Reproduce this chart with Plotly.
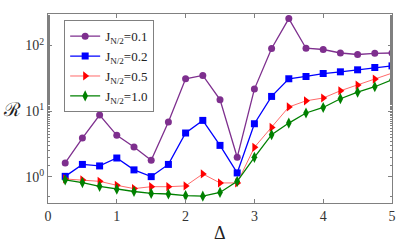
import plotly.graph_objects as go

delta = [0.25, 0.5, 0.75, 1.0, 1.25, 1.5, 1.75, 2.0, 2.25, 2.5,
         2.75, 3.0, 3.25, 3.5, 3.75, 4.0, 4.25, 4.5, 4.75, 5.0]
r_01 = [1.63, 3.9, 8.75, 4.3, 2.86, 1.79, 6.85, 31.2, 35.0, 15.0,
        1.99, 21.7, 90, 257, 91, 87, 77, 73, 76, 77]
r_02 = [1.02, 1.55, 1.47, 1.94, 1.28, 1.01, 1.55, 4.66, 7.25, 3.02,
        1.15, 6.45, 16.8, 31.2, 33.8, 37.5, 39.8, 42.7, 46.3, 49]
r_05 = [0.93, 0.90, 0.857, 0.745, 0.664, 0.71, 0.71, 0.73, 1.11, 0.81,
        0.81, 2.82, 5.67, 11.6, 14.4, 15.9, 20.5, 25, 30.9, 38]
r_10 = [0.90, 0.82, 0.72, 0.65, 0.60, 0.56, 0.55, 0.52, 0.51, 0.58,
        0.857, 1.99, 4.4, 6.6, 9.4, 11.4, 15.5, 19.5, 23.6, 30.1]

names = ["J<sub>N/2</sub>=0.1", "J<sub>N/2</sub>=0.2", "J<sub>N/2</sub>=0.5", "J<sub>N/2</sub>=1.0"]
series = [r_01, r_02, r_05, r_10]
line_colors = ["#7E2F8E", "#0000FF", "#FF6A6A", "#008000"]
marker_colors = ["#7E2F8E", "#0000FF", "#FF0000", "#008000"]
symbols = ["circle", "square", "triangle-right", "diamond-tall"]
sizes = [7, 7, 8, 8]
widths = [1.3, 1.3, 1.0, 1.3]

fig = go.Figure()
for y, n, lc, mc, s, sz, w in zip(series, names, line_colors, marker_colors, symbols, sizes, widths):
    fig.add_trace(go.Scatter(x=delta, y=y, name=n, mode="lines+markers",
                             line=dict(color=lc, width=w),
                             marker=dict(symbol=s, size=sz, color=mc, line=dict(width=0))))

axis_common = dict(showline=True, linecolor="#808080", linewidth=1, mirror="ticks",
                   ticks="inside", ticklen=4, tickcolor="#808080", showgrid=False,
                   zeroline=False, tickfont=dict(family="Liberation Serif", size=14, color="#333"))

fig.update_xaxes(range=[0, 5], tickvals=[0, 1, 2, 3, 4, 5], **axis_common)
fig.update_yaxes(type="log", range=[-0.397, 2.48], tickvals=[1, 10, 100],
                 ticktext=["10<sup>0</sup>", "10<sup>1</sup>", "10<sup>2</sup>"],
                 minor=dict(ticks="inside", ticklen=2, tickcolor="#808080", showgrid=False),
                 **axis_common)

fig.add_annotation(text="Δ", xref="paper", yref="paper", x=0.5, y=-0.157,
                   showarrow=False, yanchor="middle",
                   font=dict(family="Liberation Serif", size=18, color="#222"))
fig.add_annotation(text="ℛ", xref="paper", yref="paper", x=-0.105, y=0.5,
                   showarrow=False, xanchor="center", yanchor="middle",
                   font=dict(family="DejaVu Serif", size=19, color="#222"))

fig.update_layout(
    width=415, height=249,
    margin=dict(l=48, r=23, t=14, b=46),
    paper_bgcolor="white", plot_bgcolor="white",
    showlegend=True,
    legend=dict(x=0.047, y=0.967, xanchor="left", yanchor="top",
                bgcolor="white", bordercolor="#808080", borderwidth=1,
                font=dict(family="Liberation Serif", size=13, color="#222"),
                tracegroupgap=0, itemwidth=30),
)

fig.write_html("out.html", config={"displayModeBar": False},
               post_script="document.body.style.margin='0';")
